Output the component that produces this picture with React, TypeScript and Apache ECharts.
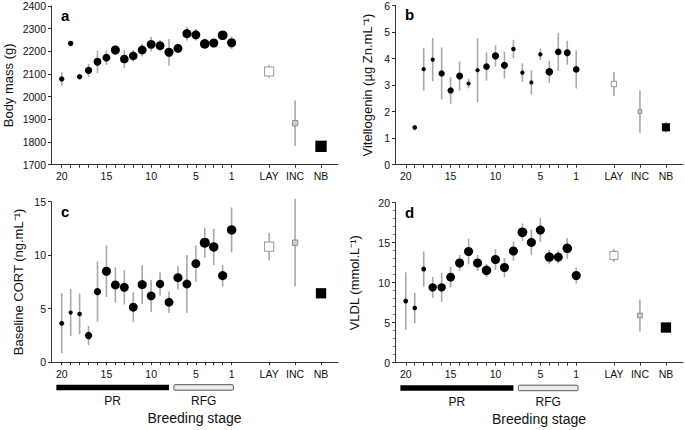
import React, { useEffect, useRef } from "react";
import * as echarts from "echarts";

// ---- data ----
const weeks = [20, 19, 18, 17, 16, 15, 14, 13, 12, 11, 10, 9, 8, 7, 6, 5, 4, 3, 2, 1];
const weekTickLabels = [20, 15, 10, 5, 1];
const endStages = ["LAY", "INC", "NB"];

// a: body mass (g)
const massMean = [2078, 2235, 2088, 2116, 2154, 2172, 2206, 2166, 2180, 2206, 2231, 2225, 2196, 2213, 2278, 2273, 2233, 2237, 2271, 2238];
const massSE = [30, 0, 6, 28, 50, 32, 22, 40, 25, 28, 32, 25, 58, 20, 30, 25, 15, 18, 18, 28];
const massN = [3, 3, 3, 8, 10, 10, 15, 13, 13, 14, 14, 14, 15, 14, 15, 14, 18, 15, 18, 15];
const massEnd = [2111, 1883, 1781];
const massEndSE = [28, 100, 8];
const massEndN = [12, 3, 20];

// b: vitellogenin (µg Zn/mL)
const vtgMean = [null, 1.4, 3.6, 3.96, 3.44, 2.8, 3.34, 3.06, 3.56, 3.7, 4.1, 3.75, 4.36, 3.47, 3.1, 4.16, 3.5, 4.25, 4.22, 3.59];
const vtgSE = [0, 0.1, 0.8, 0.82, 0.98, 0.5, 0.55, 0.18, 1.2, 0.53, 0.4, 0.5, 0.35, 0.35, 0.45, 0.22, 0.42, 0.72, 0.45, 0.72];
const vtgN = [0, 1.5, 1, 1, 5, 5, 7, 1, 1, 6, 8, 7, 1.5, 1, 1, 1, 9, 6, 7, 6];
const vtgEnd = [3.04, 2.0, 1.41];
const vtgEndSE = [0.45, 0.8, 0.2];
const vtgEndN = [3, 1, 9];

// c: baseline CORT (ng/mL)
const cortMean = [3.64, 4.64, 4.51, 2.49, 6.6, 8.5, 7.22, 7.0, 5.14, 7.25, 6.2, 7.31, 5.6, 7.9, 7.31, 9.21, 11.17, 10.77, 8.09, 12.36];
const cortSE = [2.8, 2.2, 1.9, 0.9, 2.8, 2.4, 1.65, 1.6, 1.4, 1.8, 1.5, 1.1, 1.0, 1.1, 2.7, 1.7, 1.4, 1.7, 1.0, 2.1];
const cortN = [2, 1, 1.5, 8, 8, 15, 14, 14, 14, 15, 14, 12, 14, 15, 14, 14, 20, 17, 15, 17];
const cortEnd = [10.8, 11.17, 6.44];
const cortEndSE = [1.3, 4.1, 0.2];
const cortEndN = [12, 3, 16];

// d: VLDL (mmol/L)
const vldlMean = [7.7, 6.83, 11.7, 9.42, 9.42, 10.7, 12.46, 13.9, 12.46, 11.54, 12.9, 11.9, 13.96, 16.3, 15.04, 16.58, 13.2, 13.2, 14.3, 10.9];
const vldlSE = [3.6, 1.9, 2.2, 1.3, 1.8, 1.3, 1.0, 1.6, 1.0, 0.8, 1.3, 1.2, 1.2, 1.1, 1.6, 1.5, 0.9, 0.8, 1.3, 1.0];
const vldlN = [2, 1.5, 2, 12, 12, 14, 15, 15, 15, 17, 15, 15, 15, 18, 15, 15, 17, 15, 17, 15];
const vldlEnd = [13.4, 5.9, 4.4];
const vldlEndSE = [0.8, 2.0, 0.2];
const vldlEndN = [9, 2, 16];

// breeding phases (weeks before laying)
const phaseNames = ["PR", "RFG"];
const phaseFrom = [20.6, 7.45];
const phaseTo = [8.0, 0.8];

// ---- layout ----
const END_SLOT = [-3.2, -6.1, -9.0];
const X_MIN = -10.9;
const X_MAX = 21.2;
const FONT = "Liberation Sans, Arial, Helvetica, sans-serif";
const ERR_COLOR = "#a8a8a8";
const AXIS_COLOR = "#333";

const circleSize = (n: number) => 2.5 + 1.7 * Math.sqrt(n);
const squareSize = (n: number) => 1.5 + 2.2 * Math.sqrt(n);

const endStyles = [
  { color: "#ffffff", borderColor: "#9a9a9a", borderWidth: 1 },
  { color: "#d0d0d0", borderColor: "#8a8a8a", borderWidth: 1 },
  { color: "#000000", borderColor: "#000000", borderWidth: 0 },
];

type PanelCfg = {
  grid: { left: number; top: number; width: number; height: number };
  yMin: number;
  yMax: number;
  yInterval: number;
  minor: boolean;
  yName: string;
  yNameGap: number;
  letter: string;
  mean: (number | null)[];
  se: number[];
  n: number[];
  end: number[];
  endSE: number[];
  endN: number[];
  stages: boolean;
};

function buildPanels(): PanelCfg[] {
  return [
    {
      grid: { left: 51, top: 6, width: 287, height: 158.7 },
      yMin: 1700, yMax: 2400, yInterval: 100, minor: false,
      yName: "Body mass (g)", yNameGap: 36, letter: "a",
      mean: massMean, se: massSE, n: massN,
      end: massEnd, endSE: massEndSE, endN: massEndN, stages: false,
    },
    {
      grid: { left: 395, top: 5, width: 288, height: 159.7 },
      yMin: 0, yMax: 6, yInterval: 1, minor: false,
      yName: "Vitellogenin (µg Zn.mL⁻¹)", yNameGap: 21, letter: "b",
      mean: vtgMean, se: vtgSE, n: vtgN,
      end: vtgEnd, endSE: vtgEndSE, endN: vtgEndN, stages: false,
    },
    {
      grid: { left: 51, top: 201.7, width: 287, height: 160.5 },
      yMin: 0, yMax: 15, yInterval: 5, minor: false,
      yName: "Baseline CORT (ng.mL⁻¹)", yNameGap: 26, letter: "c",
      mean: cortMean, se: cortSE, n: cortN,
      end: cortEnd, endSE: cortEndSE, endN: cortEndN, stages: true,
    },
    {
      grid: { left: 395, top: 202.7, width: 288, height: 160 },
      yMin: 0, yMax: 20, yInterval: 5, minor: true,
      yName: "VLDL (mmol.L⁻¹)", yNameGap: 34, letter: "d",
      mean: vldlMean, se: vldlSE, n: vldlN,
      end: vldlEnd, endSE: vldlEndSE, endN: vldlEndN, stages: true,
    },
  ];
}

function buildOption() {
  const panels = buildPanels();
  const grid: any[] = [];
  const xAxis: any[] = [];
  const yAxis: any[] = [];
  const series: any[] = [];
  const graphic: any[] = [];

  const allTicks = [...weeks, ...END_SLOT];
  const labelTicks = [...weekTickLabels, ...END_SLOT];

  panels.forEach((p, i) => {
    grid.push({ ...p.grid, containLabel: false });
    xAxis.push({
      type: "value",
      gridIndex: i,
      min: X_MIN,
      max: X_MAX,
      inverse: true,
      splitLine: { show: false },
      axisLine: { show: true, onZero: false, lineStyle: { color: AXIS_COLOR, width: 1 } },
      axisTick: { show: true, length: 3, customValues: allTicks, lineStyle: { color: AXIS_COLOR } },
      axisLabel: {
        show: true,
        customValues: labelTicks,
        margin: 6,
        fontSize: 10.5,
        fontFamily: FONT,
        color: "#111",
        formatter: (v: number) => {
          for (let k = 0; k < END_SLOT.length; k++) {
            if (Math.abs(v - END_SLOT[k]) < 0.01) return endStages[k];
          }
          return String(Math.round(v));
        },
      },
      name: p.stages ? "Breeding stage" : "",
      nameLocation: "middle",
      nameGap: 49,
      nameTextStyle: { fontSize: 14, fontFamily: FONT, color: "#111" },
    });
    yAxis.push({
      type: "value",
      gridIndex: i,
      min: p.yMin,
      max: p.yMax,
      interval: p.yInterval,
      splitLine: { show: false },
      axisLine: { show: true, onZero: false, lineStyle: { color: AXIS_COLOR, width: 1 } },
      axisTick: { show: true, length: 3, lineStyle: { color: AXIS_COLOR } },
      minorTick: { show: p.minor, splitNumber: 5, length: 2, lineStyle: { color: "#777" } },
      axisLabel: {
        margin: 5,
        fontSize: 10.5,
        fontFamily: FONT,
        color: "#111",
        formatter: (v: number) => String(v),
      },
      name: p.yName,
      nameLocation: "middle",
      nameRotate: 90,
      nameGap: p.yNameGap,
      nameTextStyle: { fontSize: 13, fontFamily: FONT, color: "#111" },
    });

    // error bars
    const errData: any[] = [];
    weeks.forEach((w, k) => {
      const m = p.mean[k];
      if (m == null || !p.se[k]) return;
      errData.push([w, m - p.se[k], m + p.se[k]]);
    });
    p.end.forEach((m, k) => {
      if (!p.endSE[k]) return;
      errData.push([END_SLOT[k], m - p.endSE[k], m + p.endSE[k]]);
    });
    series.push({
      type: "custom",
      xAxisIndex: i,
      yAxisIndex: i,
      clip: false,
      silent: true,
      z: 1,
      encode: { x: 0, y: [1, 2] },
      data: errData,
      renderItem: (_params: any, api: any) => {
        const a = api.coord([api.value(0), api.value(1)]);
        const b = api.coord([api.value(0), api.value(2)]);
        return {
          type: "line",
          shape: { x1: a[0], y1: a[1], x2: b[0], y2: b[1] },
          style: { stroke: ERR_COLOR, lineWidth: 1.6 },
        };
      },
    });

    // weekly means
    const pts: any[] = [];
    weeks.forEach((w, k) => {
      const m = p.mean[k];
      if (m == null) return;
      pts.push([w, m, p.n[k]]);
    });
    series.push({
      type: "scatter",
      xAxisIndex: i,
      yAxisIndex: i,
      z: 3,
      symbol: "circle",
      symbolSize: (v: number[]) => circleSize(v[2]),
      itemStyle: { color: "#000", opacity: 1 },
      data: pts,
    });

    // LAY / INC / NB
    series.push({
      type: "scatter",
      xAxisIndex: i,
      yAxisIndex: i,
      z: 3,
      symbol: "rect",
      symbolSize: (v: number[]) => squareSize(v[2]),
      data: p.end.map((m, k) => ({
        value: [END_SLOT[k], m, p.endN[k]],
        itemStyle: { ...endStyles[k], opacity: 1 },
      })),
    });

    // breeding phase bars
    if (p.stages) {
      const yMin = p.yMin;
      series.push({
        type: "custom",
        xAxisIndex: i,
        yAxisIndex: i,
        clip: false,
        silent: true,
        z: 2,
        data: phaseNames.map((_nm, k) => [phaseFrom[k], phaseTo[k], k]),
        renderItem: (_params: any, api: any) => {
          const k = api.value(2);
          const a = api.coord([api.value(0), yMin]);
          const b = api.coord([api.value(1), yMin]);
          const top = a[1] + 22.5;
          const h = 5.5;
          const dark = k === 0;
          return {
            type: "group",
            children: [
              {
                type: "rect",
                shape: { x: a[0], y: top, width: b[0] - a[0], height: h, r: dark ? 0 : 1 },
                style: dark
                  ? { fill: "#000" }
                  : { fill: "#ececec", stroke: "#555", lineWidth: 1 },
              },
              {
                type: "text",
                x: (a[0] + b[0]) / 2,
                y: top + h + 11,
                style: {
                  text: phaseNames[k],
                  fontSize: 12,
                  fontFamily: FONT,
                  fill: "#111",
                  align: "center",
                  verticalAlign: "middle",
                },
              },
            ],
          };
        },
      });
    }

    graphic.push({
      type: "text",
      left: p.grid.left + 10,
      top: p.grid.top + 2,
      style: { text: p.letter, fontSize: 15, fontWeight: "bold", fontFamily: FONT, fill: "#000" },
    });
  });

  return {
    animation: false,
    backgroundColor: "#fff",
    grid,
    xAxis,
    yAxis,
    series,
    graphic,
  };
}

export default function App() {
  const ref = useRef<HTMLDivElement>(null);
  useEffect(() => {
    if (!ref.current) return;
    const chart = echarts.init(ref.current, undefined, { renderer: "svg" });
    chart.setOption(buildOption() as any);
    return () => chart.dispose();
  }, []);
  return (
    <div
      ref={ref}
      style={{ position: "fixed", left: 0, top: 0, width: 685, height: 430, background: "#fff" }}
    />
  );
}
